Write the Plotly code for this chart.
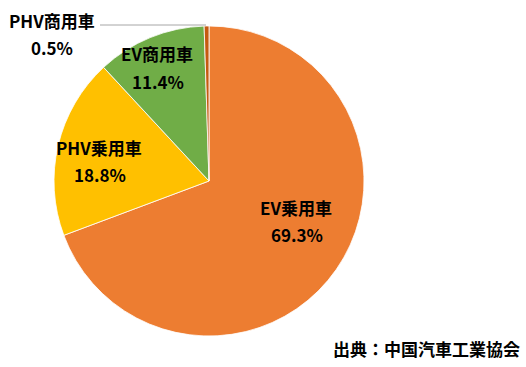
import plotly.graph_objects as go

labels = ["EV乗用車", "PHV乗用車", "EV商用車", "PHV商用車"]
values = [69.3, 18.8, 11.4, 0.5]
colors = ["#ED7D31", "#FFC000", "#70AD47", "#C55A11"]
source = "出典：中国汽車工業協会"

W, H = 526, 367
def px(x): return x / W
def py(y): return 1 - y / H

fig = go.Figure(go.Pie(
    labels=labels, values=values, sort=False, direction="clockwise", rotation=0,
    marker=dict(colors=colors, line=dict(color="white", width=0.8)),
    textinfo="none", hoverinfo="label+percent", showlegend=False,
    domain=dict(x=[px(54), px(364)], y=[py(336), py(26)]),
))

font = dict(family="Noto Sans CJK JP", size=17, color="#000000")
# label positions (pixel centres): name line, value line
pos = {
    "EV乗用車": ((296, 207), (297, 234)),
    "PHV乗用車": ((99, 147), (100, 174)),
    "EV商用車": ((157, 54), (158, 82)),
    "PHV商用車": ((52, 20), (52, 48)),
}
anns = []
for lab, val in zip(labels, values):
    (x1, y1), (x2, y2) = pos[lab]
    anns.append(dict(x=px(x1), y=py(y1), xref="paper", yref="paper", text="<b>%s</b>" % lab,
                     showarrow=False, font=font, xanchor="center", yanchor="middle"))
    anns.append(dict(x=px(x2), y=py(y2), xref="paper", yref="paper", text="<b>%.1f%%</b>" % val,
                     showarrow=False, font=font, xanchor="center", yanchor="middle"))
anns.append(dict(x=px(426), y=py(348), xref="paper", yref="paper", text="<b>%s</b>" % source,
                 showarrow=False, font=dict(family="Noto Sans CJK JP", size=17, color="#000000"),
                 xanchor="center", yanchor="middle"))

fig.update_layout(
    width=W, height=H, margin=dict(l=0, r=0, t=0, b=0),
    paper_bgcolor="white", plot_bgcolor="white",
    annotations=anns,
    shapes=[dict(type="line", xref="paper", yref="paper", x0=px(100), y0=py(25), x1=px(206), y1=py(25),
                 line=dict(color="#A6A6A6", width=1))],
)
fig.write_html("out.html", post_script="document.body.style.margin='0';",
               config={"displayModeBar": False})
